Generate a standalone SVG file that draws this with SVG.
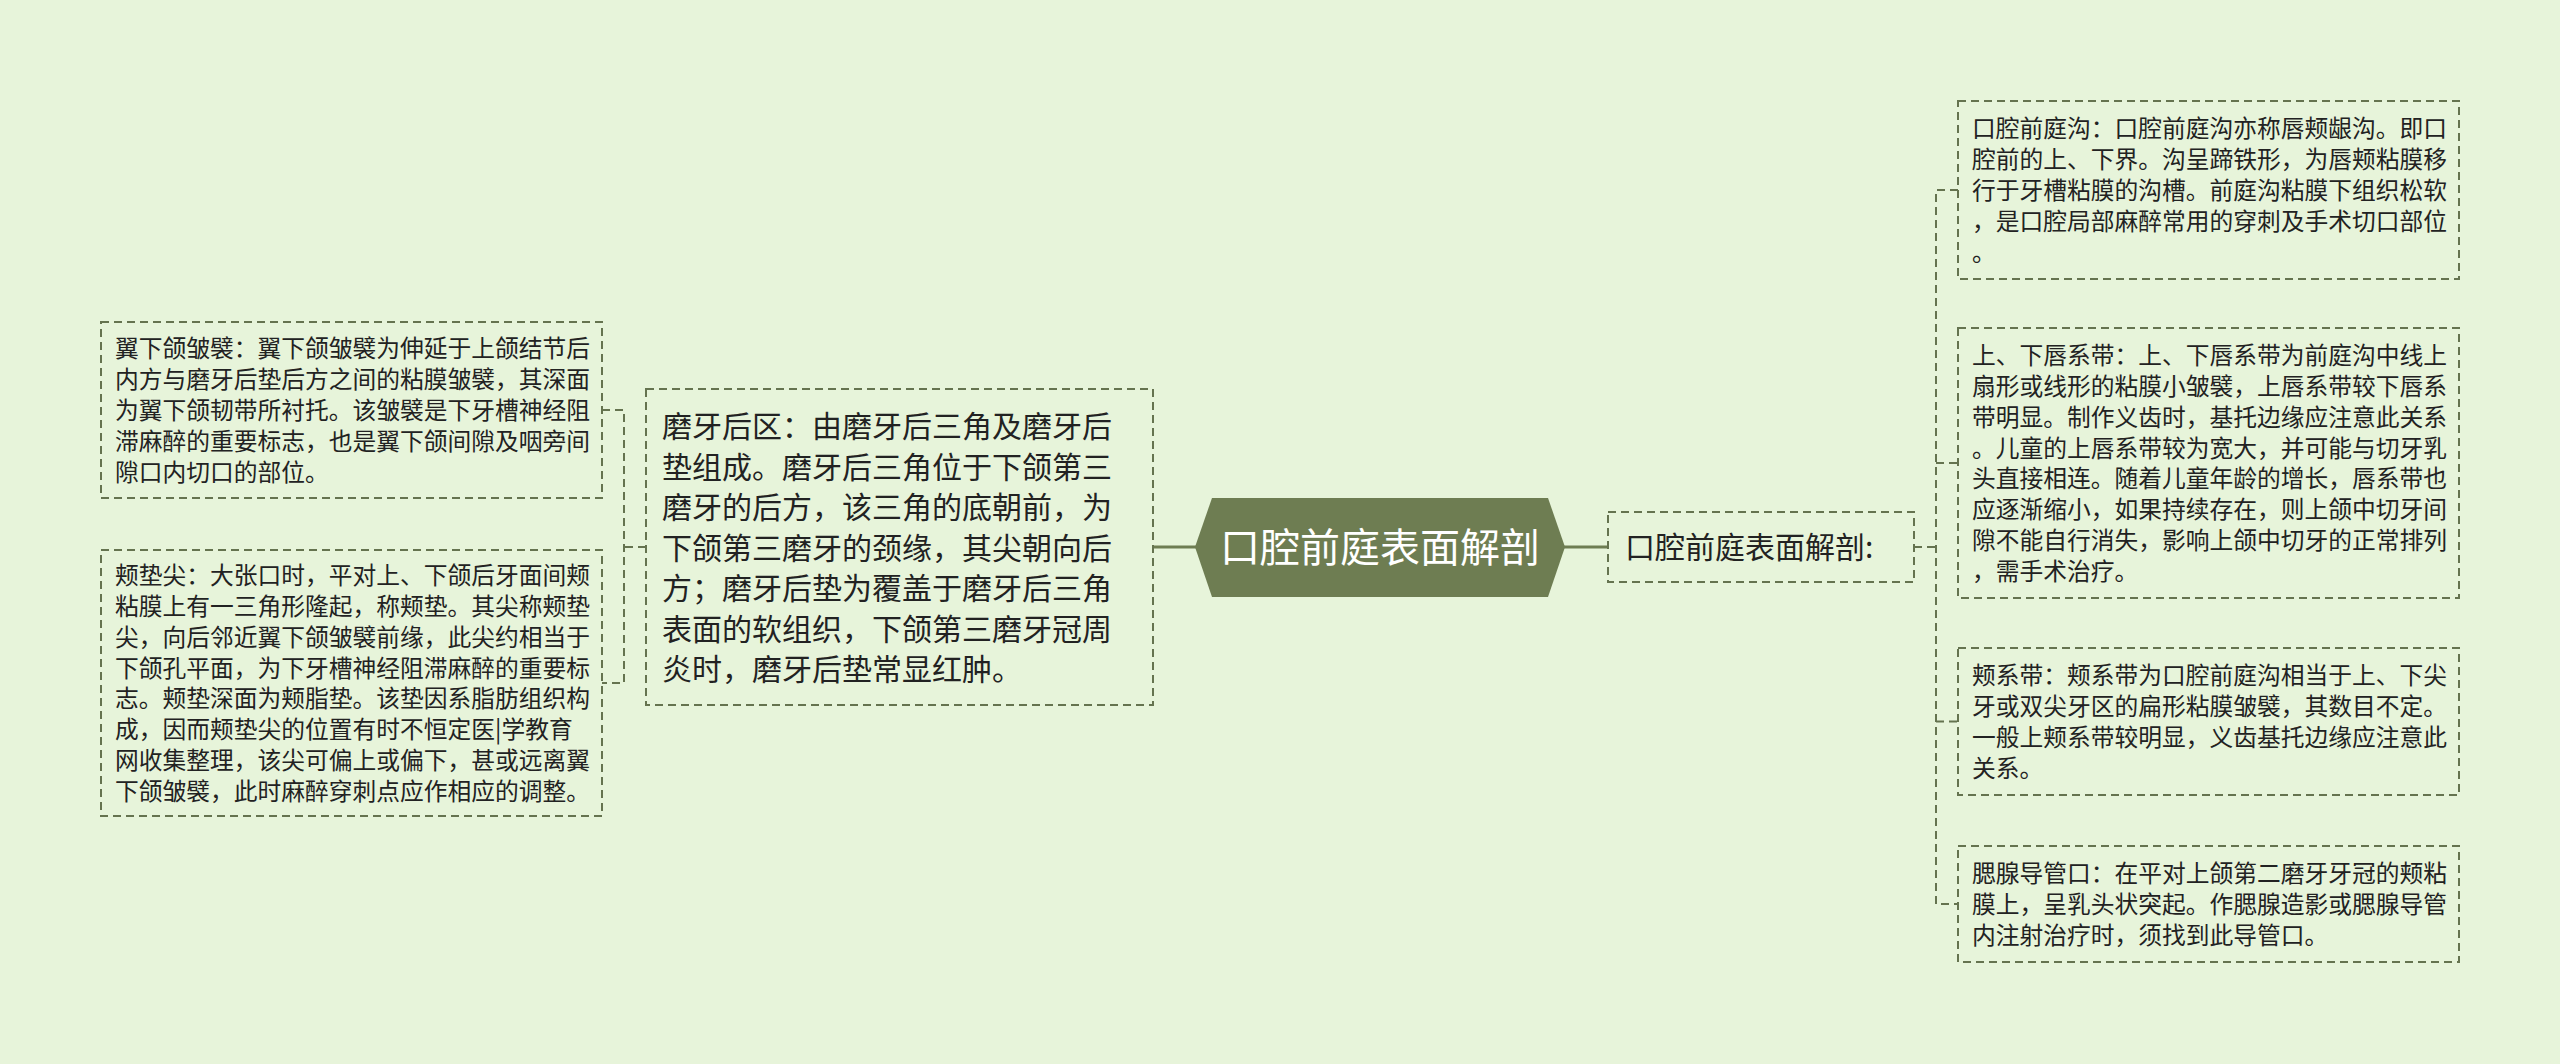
<svg xmlns="http://www.w3.org/2000/svg" width="2560" height="1064" viewBox="0 0 2560 1064">
<style>
.bg{fill:#e7f4da}
.box{fill:none;stroke:#65734f;stroke-width:2;stroke-dasharray:8 5}
.t{font-family:"Noto Sans CJK SC","Noto Sans",sans-serif;fill:#222}
.s{font-size:23.75px}
.m{font-size:30px}
.hex{fill:#6e7d52}
.ht{font-family:"Noto Sans CJK SC","Noto Sans",sans-serif;font-size:40px;fill:#ffffff}
.solid{fill:none;stroke:#6e7d52;stroke-width:3}
.dash{fill:none;stroke:#65734f;stroke-width:2;stroke-dasharray:8 5}
</style>
<rect class="bg" x="0" y="0" width="2560" height="1064"/>
<g id="connectors">
<line class="solid" x1="1153" y1="547" x2="1196" y2="547"/>
<line class="solid" x1="1564" y1="547" x2="1608" y2="547"/>
<path class="dash" d="M646 547 H624 M602 410 H624 V683 H602"/>
<path class="dash" d="M1914 547 H1936 M1958 190 H1936 V904 H1958 M1936 463 H1958 M1936 721.5 H1958"/>
</g>
<g id="center">
<polygon class="hex" points="1195,547 1212,498 1548,498 1565,547 1548,597 1212,597"/>
<text class="ht" x="1380" y="562" text-anchor="middle">口腔前庭表面解剖</text>
</g>
<g id="middle">
<rect class="box" x="646" y="389" width="507" height="316"/>
<text class="t m" y="437"><tspan x="662">磨牙后区：由磨牙后三角及磨牙后</tspan><tspan x="662" dy="40.5">垫组成。磨牙后三角位于下颌第三</tspan><tspan x="662" dy="40.5">磨牙的后方，该三角的底朝前，为</tspan><tspan x="662" dy="40.5">下颌第三磨牙的颈缘，其尖朝向后</tspan><tspan x="662" dy="40.5">方；磨牙后垫为覆盖于磨牙后三角</tspan><tspan x="662" dy="40.5">表面的软组织，下颌第三磨牙冠周</tspan><tspan x="662" dy="40.5">炎时，磨牙后垫常显红肿。</tspan></text>
</g>
<g id="left1">
<rect class="box" x="101" y="322" width="501" height="176"/>
<text class="t s" y="357.4"><tspan x="115">翼下颌皱襞：翼下颌皱襞为伸延于上颌结节后</tspan><tspan x="115" dy="30.8">内方与磨牙后垫后方之间的粘膜皱襞，其深面</tspan><tspan x="115" dy="30.8">为翼下颌韧带所衬托。该皱襞是下牙槽神经阻</tspan><tspan x="115" dy="30.8">滞麻醉的重要标志，也是翼下颌间隙及咽旁间</tspan><tspan x="115" dy="30.8">隙口内切口的部位。</tspan></text>
</g>
<g id="left2">
<rect class="box" x="101" y="550" width="501" height="266"/>
<text class="t s" y="584.2"><tspan x="115">颊垫尖：大张口时，平对上、下颌后牙面间颊</tspan><tspan x="115" dy="30.8">粘膜上有一三角形隆起，称颊垫。其尖称颊垫</tspan><tspan x="115" dy="30.8">尖，向后邻近翼下颌皱襞前缘，此尖约相当于</tspan><tspan x="115" dy="30.8">下颌孔平面，为下牙槽神经阻滞麻醉的重要标</tspan><tspan x="115" dy="30.8">志。颊垫深面为颊脂垫。该垫因系脂肪组织构</tspan><tspan x="115" dy="30.8">成，因而颊垫尖的位置有时不恒定医|学教育</tspan><tspan x="115" dy="30.8">网收集整理，该尖可偏上或偏下，甚或远离翼</tspan><tspan x="115" dy="30.8">下颌皱襞，此时麻醉穿刺点应作相应的调整。</tspan></text>
</g>
<g id="sub">
<rect class="box" x="1608" y="512" width="306" height="70"/>
<text class="t m" x="1625" y="558">口腔前庭表面解剖:</text>
</g>
<g id="right1">
<rect class="box" x="1958" y="101" width="501" height="178"/>
<text class="t s" y="137.4"><tspan x="1972">口腔前庭沟：口腔前庭沟亦称唇颊龈沟。即口</tspan><tspan x="1972" dy="30.8">腔前的上、下界。沟呈蹄铁形，为唇颊粘膜移</tspan><tspan x="1972" dy="30.8">行于牙槽粘膜的沟槽。前庭沟粘膜下组织松软</tspan><tspan x="1972" dy="30.8">，是口腔局部麻醉常用的穿刺及手术切口部位</tspan><tspan x="1972" dy="30.8">。</tspan></text>
</g>
<g id="right2">
<rect class="box" x="1958" y="328" width="501" height="270"/>
<text class="t s" y="364.2"><tspan x="1972">上、下唇系带：上、下唇系带为前庭沟中线上</tspan><tspan x="1972" dy="30.8">扇形或线形的粘膜小皱襞，上唇系带较下唇系</tspan><tspan x="1972" dy="30.8">带明显。制作义齿时，基托边缘应注意此关系</tspan><tspan x="1972" dy="30.8">。儿童的上唇系带较为宽大，并可能与切牙乳</tspan><tspan x="1972" dy="30.8">头直接相连。随着儿童年龄的增长，唇系带也</tspan><tspan x="1972" dy="30.8">应逐渐缩小，如果持续存在，则上颌中切牙间</tspan><tspan x="1972" dy="30.8">隙不能自行消失，影响上颌中切牙的正常排列</tspan><tspan x="1972" dy="30.8">，需手术治疗。</tspan></text>
</g>
<g id="right3">
<rect class="box" x="1958" y="648" width="501" height="147"/>
<text class="t s" y="684.3"><tspan x="1972">颊系带：颊系带为口腔前庭沟相当于上、下尖</tspan><tspan x="1972" dy="30.8">牙或双尖牙区的扁形粘膜皱襞，其数目不定。</tspan><tspan x="1972" dy="30.8">一般上颊系带较明显，义齿基托边缘应注意此</tspan><tspan x="1972" dy="30.8">关系。</tspan></text>
</g>
<g id="right4">
<rect class="box" x="1958" y="846" width="501" height="116"/>
<text class="t s" y="882.2"><tspan x="1972">腮腺导管口：在平对上颌第二磨牙牙冠的颊粘</tspan><tspan x="1972" dy="30.8">膜上，呈乳头状突起。作腮腺造影或腮腺导管</tspan><tspan x="1972" dy="30.8">内注射治疗时，须找到此导管口。</tspan></text>
</g>
</svg>
